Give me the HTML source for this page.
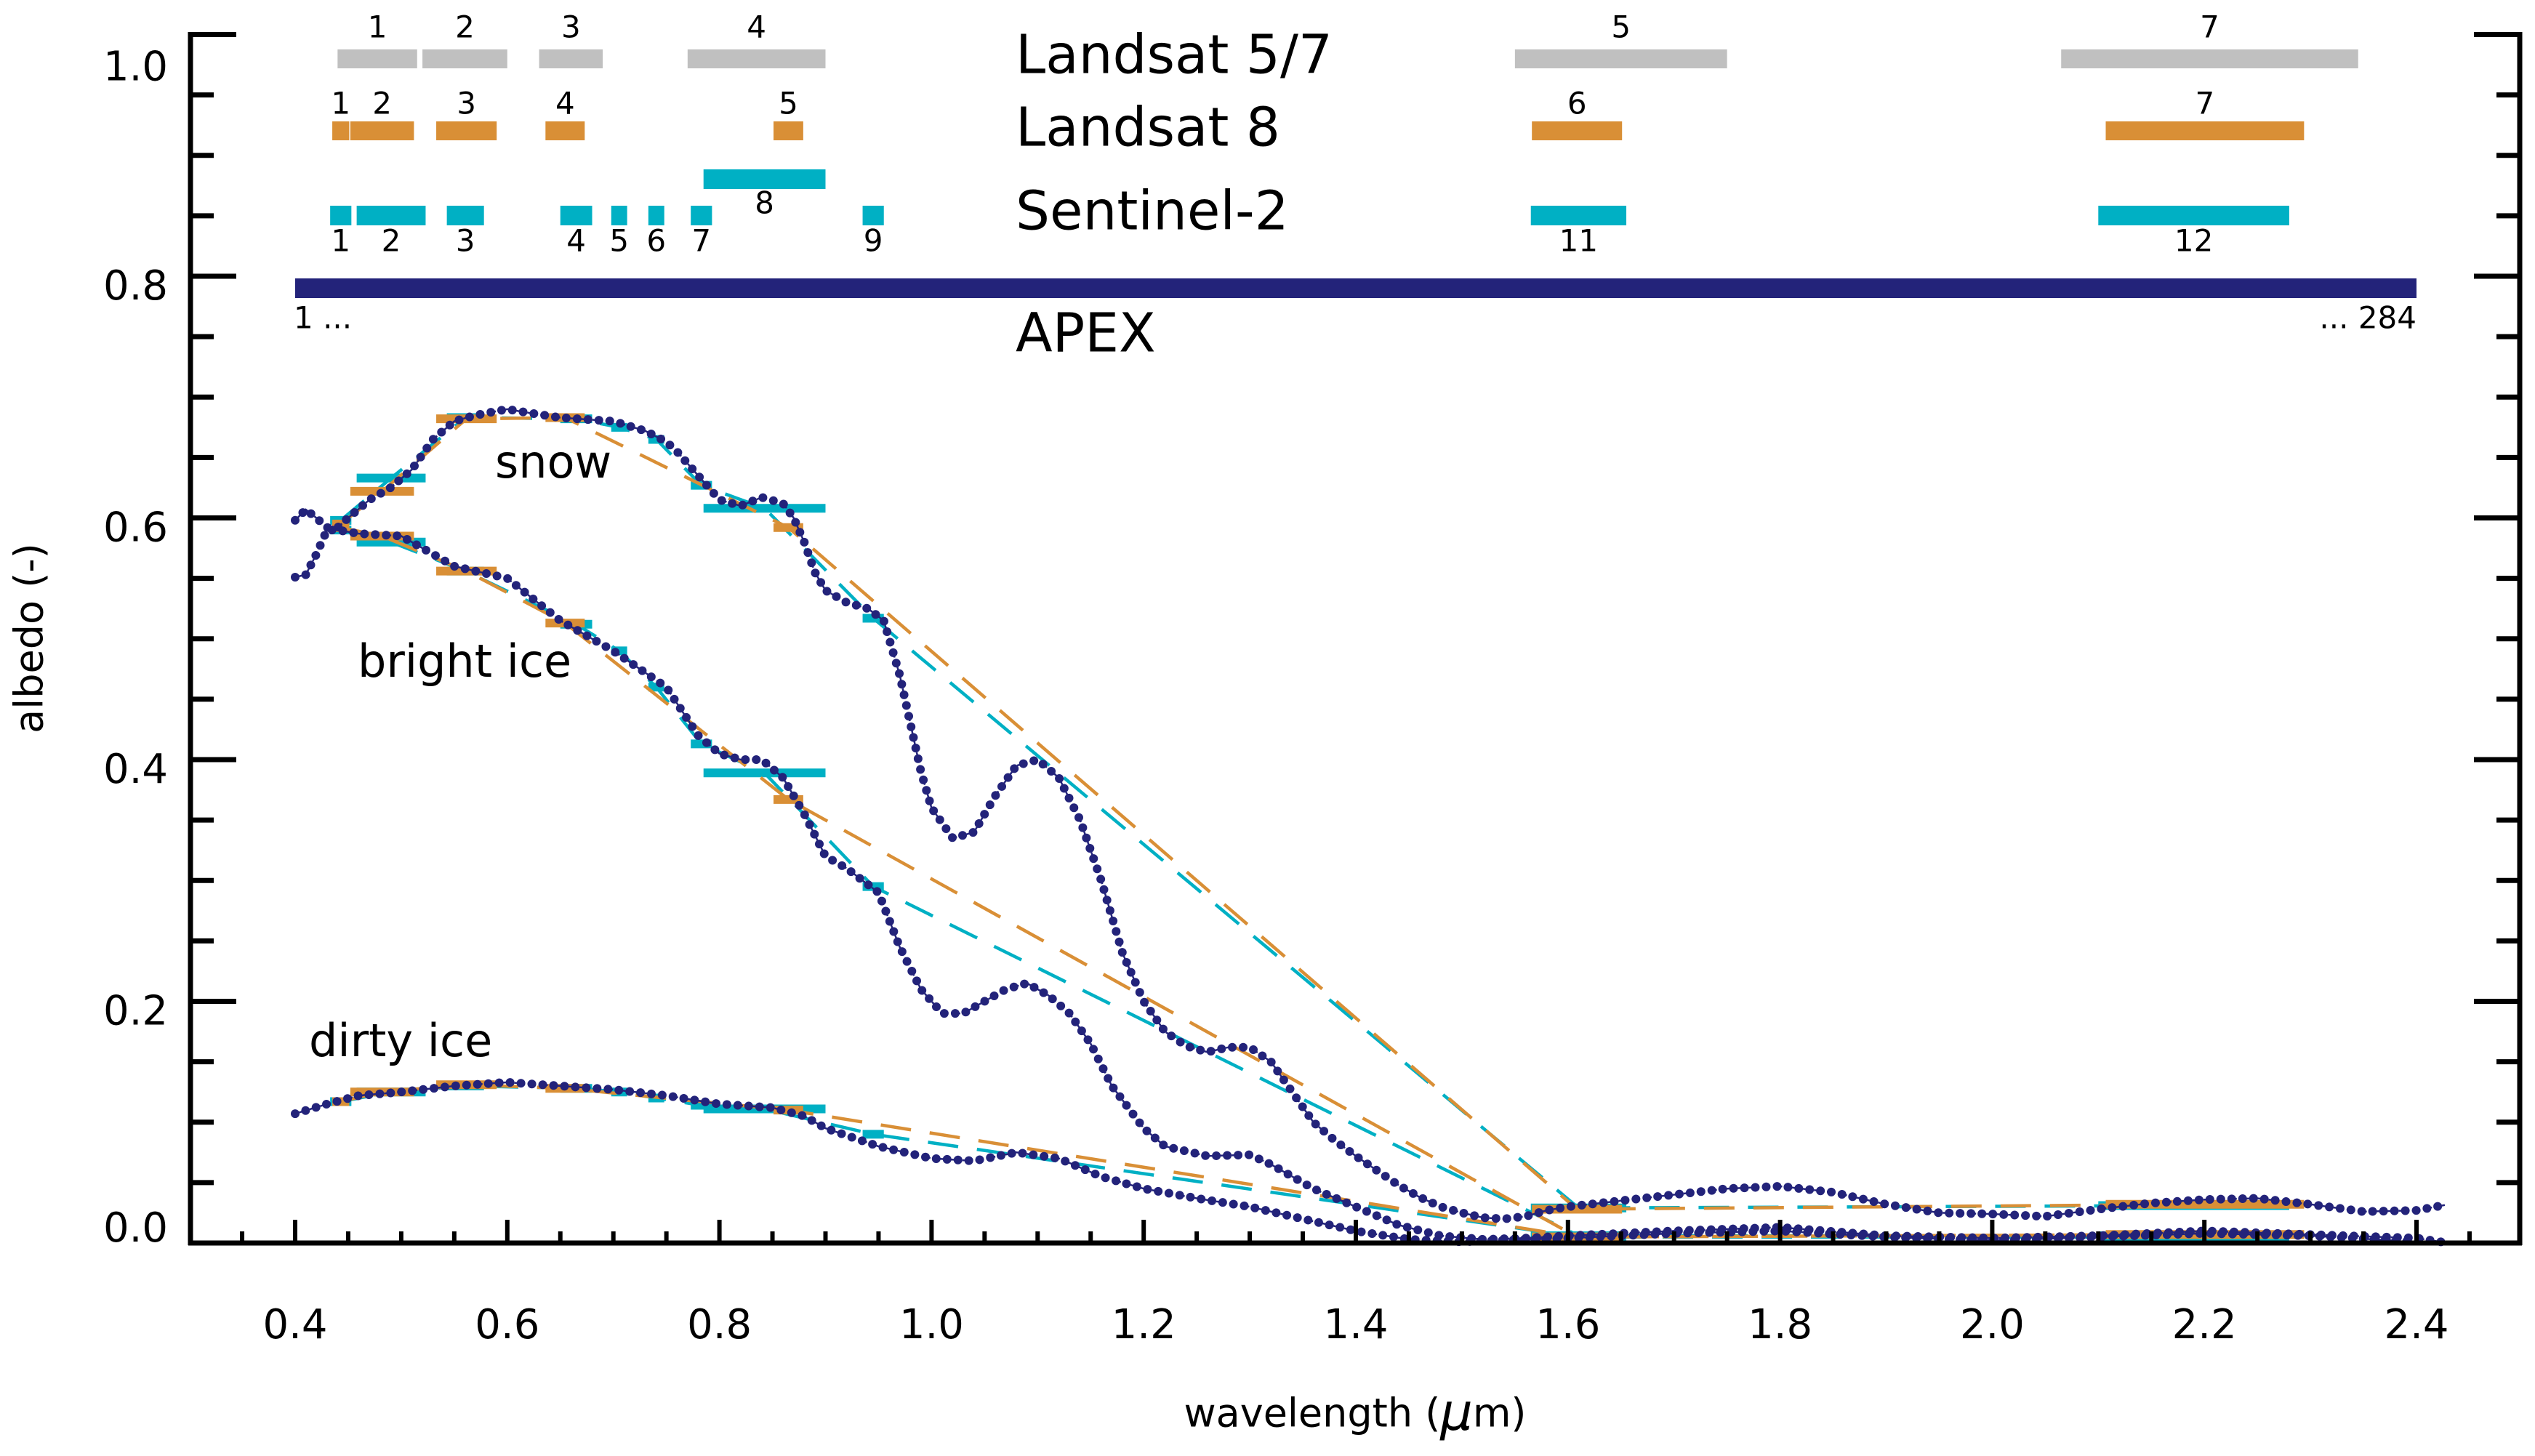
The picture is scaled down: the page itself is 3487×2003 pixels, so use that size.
<!DOCTYPE html>
<html><head><meta charset="utf-8"><style>
html,body{margin:0;padding:0;background:#fff;}
svg{display:block;font-family:"DejaVu Sans","Liberation Sans",sans-serif;}
</style></head>
<body>
<svg id="chart" xmlns="http://www.w3.org/2000/svg" width="3487" height="2003" viewBox="0 0 3487 2003">
<rect x="0" y="0" width="3487" height="2003" fill="#fff"/>
<g id="bands"></g>
<g id="series"></g>
<g id="axes"></g>
<text x="1397" y="80" font-size="74" dominant-baseline="middle">Landsat 5/7</text>
<text x="1397" y="180" font-size="74" dominant-baseline="middle">Landsat 8</text>
<text x="1397" y="295" font-size="74" dominant-baseline="middle">Sentinel-2</text>
<text x="1397" y="463" font-size="74" dominant-baseline="middle">APEX</text>
<text x="681" y="640" font-size="62" dominant-baseline="middle">snow</text>
<text x="492" y="914" font-size="62" dominant-baseline="middle">bright ice</text>
<text x="425" y="1436" font-size="62" dominant-baseline="middle">dirty ice</text>
<text x="1864" y="1948" font-size="54" text-anchor="middle" dominant-baseline="middle">wavelength (<tspan font-style="italic" font-size="70">μ</tspan>m)</text>
<text x="44" y="878" font-size="54" text-anchor="middle" dominant-baseline="middle" transform="rotate(-90 44 878)">albedo (-)</text>
</svg>
<script>
// ---- data ----
const l57Bands = [[0.44,0.515],[0.52,0.60],[0.63,0.69],[0.77,0.90],[1.55,1.75],[2.065,2.345]];
const l57Names = ['1','2','3','4','5','7'];
const l8Bands = [[0.435,0.451],[0.452,0.512],[0.533,0.590],[0.636,0.673],[0.851,0.879],[1.566,1.651],[2.107,2.294]];
const l8Names = ['1','2','3','4','5','6','7'];
const s2Bands = [[0.433,0.453],[0.458,0.523],[0.543,0.578],[0.650,0.680],[0.698,0.713],[0.733,0.748],[0.773,0.793],[0.785,0.900],[0.935,0.955],[1.565,1.655],[2.100,2.280]];
const s2Names = ['1','2','3','4','5','6','7','8','9','11','12'];
const apexRange = [0.40, 2.40];

const snowWl = [0.40,0.41,0.42,0.43,0.44,0.45,0.47,0.49,0.51,0.53,0.55,0.57,0.60,0.62,0.65,0.70,0.73,0.75,0.76,0.78,0.80,0.82,0.84,0.86,0.87,0.88,0.89,0.90,0.92,0.94,0.955,0.97,0.99,1.00,1.02,1.04,1.06,1.08,1.10,1.12,1.14,1.16,1.18,1.20,1.22,1.24,1.26,1.28,1.30,1.32,1.34,1.36,1.38,1.40,1.42,1.44,1.46,1.48,1.50,1.52,1.54,1.56,1.58,1.60,1.65,1.70,1.75,1.80,1.85,1.90,1.95,2.00,2.05,2.10,2.15,2.20,2.25,2.30,2.35,2.40,2.43];
const snowAlb = [0.598,0.607,0.600,0.592,0.592,0.600,0.615,0.625,0.640,0.665,0.680,0.685,0.690,0.687,0.683,0.680,0.672,0.663,0.655,0.635,0.615,0.610,0.617,0.612,0.600,0.580,0.555,0.540,0.530,0.525,0.515,0.470,0.390,0.360,0.335,0.340,0.370,0.395,0.400,0.385,0.350,0.300,0.240,0.200,0.175,0.163,0.158,0.162,0.162,0.150,0.125,0.100,0.085,0.072,0.060,0.048,0.038,0.030,0.025,0.021,0.020,0.022,0.027,0.030,0.035,0.040,0.045,0.047,0.042,0.032,0.025,0.024,0.022,0.028,0.033,0.036,0.037,0.032,0.026,0.027,0.032];
const brightWl = [0.40,0.41,0.42,0.43,0.44,0.46,0.50,0.52,0.55,0.60,0.65,0.70,0.75,0.78,0.80,0.82,0.84,0.86,0.88,0.90,0.92,0.95,0.97,0.99,1.01,1.03,1.05,1.07,1.09,1.11,1.13,1.15,1.17,1.20,1.22,1.26,1.30,1.32,1.36,1.40,1.44,1.48,1.52,1.56,1.60,1.70,1.80,1.90,2.00,2.10,2.20,2.30,2.40,2.43];
const brightAlb = [0.551,0.553,0.570,0.590,0.590,0.587,0.585,0.575,0.560,0.550,0.515,0.490,0.460,0.420,0.405,0.400,0.400,0.385,0.355,0.320,0.310,0.290,0.245,0.210,0.190,0.190,0.200,0.210,0.215,0.205,0.190,0.165,0.130,0.095,0.080,0.072,0.073,0.065,0.045,0.030,0.015,0.006,0.003,0.004,0.006,0.010,0.013,0.006,0.004,0.006,0.010,0.007,0.004,0.000];
const dirtyWl = [0.40,0.43,0.46,0.50,0.55,0.60,0.65,0.70,0.75,0.80,0.85,0.88,0.90,0.95,1.00,1.04,1.08,1.12,1.16,1.20,1.25,1.30,1.35,1.40,1.45,1.50,1.60,1.70,1.80,1.90,2.00,2.10,2.20,2.30,2.40];
const dirtyAlb = [0.107,0.115,0.122,0.125,0.130,0.133,0.130,0.127,0.122,0.115,0.112,0.105,0.095,0.080,0.070,0.068,0.075,0.070,0.055,0.045,0.037,0.030,0.020,0.010,0.003,0.001,0.004,0.008,0.010,0.005,0.002,0.005,0.008,0.006,0.001];

const l8Snow = [0.595,0.622,0.682,0.683,0.592,0.028,0.032];
const l8Bright = [0.592,0.585,0.556,0.513,0.367,0.005,0.007];
const l8Dirty = [0.117,0.125,0.131,0.128,0.110,0.005,0.007];
const s2Snow = [0.598,0.633,0.683,0.682,0.675,0.665,0.627,0.608,0.517,0.029,0.031];
const s2Bright = [0.590,0.580,0.556,0.512,0.490,0.460,0.413,0.389,0.295,0.006,0.006];
const s2Dirty = [0.117,0.125,0.130,0.128,0.125,0.120,0.114,0.111,0.090,0.005,0.005];

const xTickLabels = ['0.4','0.6','0.8','1.0','1.2','1.4','1.6','1.8','2.0','2.2','2.4'];
const yTickLabels = ['0.0','0.2','0.4','0.6','0.8','1.0'];

// ---- scales ----
const X0 = 406, XK = 1459;
const Y0 = 1710, YK = 1662.5;
function sx(w){ return X0 + (w - 0.4) * XK; }
function sy(a){ return Y0 - a * YK; }
const NS = 'http://www.w3.org/2000/svg';
function mk(tag, attrs, parent){
  const e = document.createElementNS(NS, tag);
  for (const k in attrs) e.setAttribute(k, attrs[k]);
  parent.appendChild(e);
  return e;
}
const bandsG = document.getElementById('bands');
const seriesG = document.getElementById('series');
const axesG = document.getElementById('axes');

// ---- band bars ----
function drawBands(bands, names, y, h, color, labelY, key){
  bands.forEach((b, i) => {
    let yy = y, ly = labelY;
    if (key === 's2' && names[i] === '8') { yy = 233; ly = 282; }
    const r = mk('rect', {x: sx(b[0]), y: yy, width: sx(b[1]) - sx(b[0]), height: h, fill: color}, bandsG);
    
    
    const t = mk('text', {x: (sx(b[0]) + sx(b[1])) / 2, y: ly, 'font-size': 42, 'text-anchor': 'middle', 'dominant-baseline': 'middle'}, bandsG);
    t.textContent = names[i];
    
    
  });
}
drawBands(l57Bands, l57Names, 68, 26, '#c0c0c0', 40, 'l57');
drawBands(l8Bands, l8Names, 167, 26, '#d98f36', 145, 'l8');
drawBands(s2Bands, s2Names, 283, 27, '#00b0c4', 334, 's2');
const apex = mk('rect', {x: sx(apexRange[0]), y: 383, width: sx(apexRange[1]) - sx(apexRange[0]), height: 27, fill: '#23237a'}, bandsG);


const a1 = mk('text', {x: sx(apexRange[0]) - 2, y: 440, 'font-size': 42, 'dominant-baseline': 'middle'}, bandsG);
a1.textContent = '1 ...';


const a2 = mk('text', {x: sx(apexRange[1]), y: 440, 'font-size': 42, 'text-anchor': 'end', 'dominant-baseline': 'middle'}, bandsG);
a2.textContent = '... 284';



// ---- sensor band-averaged series ----
function drawSensor(bands, vals, color, key){
  const pts = bands.map((b, i) => [sx((b[0] + b[1]) / 2), sy(vals[i])]);
  const pl = mk('polyline', {points: pts.map(p => p.join(',')).join(' '), fill: 'none', stroke: color, 'stroke-width': 4.5, 'stroke-dasharray': '42 26'}, seriesG);
  
  
  bands.forEach((b, i) => {
    const ln = mk('line', {x1: sx(b[0]), x2: sx(b[1]), y1: sy(vals[i]), y2: sy(vals[i]), stroke: color, 'stroke-width': 12}, seriesG);
    
    
  });
}
drawSensor(s2Bands, s2Snow, '#00b0c4', 's2-snow');
drawSensor(s2Bands, s2Bright, '#00b0c4', 's2-bright-ice');
drawSensor(s2Bands, s2Dirty, '#00b0c4', 's2-dirty-ice');
drawSensor(l8Bands, l8Snow, '#d98f36', 'l8-snow');
drawSensor(l8Bands, l8Bright, '#d98f36', 'l8-bright-ice');
drawSensor(l8Bands, l8Dirty, '#d98f36', 'l8-dirty-ice');

// ---- APEX spectra (dotted) ----
function drawSpectrum(wl, alb, key){
  const d = wl.map((w, i) => (i ? 'L' : 'M') + sx(w).toFixed(1) + ',' + sy(alb[i]).toFixed(1)).join(' ');
  const thin = mk('path', {d: d, fill: 'none', stroke: '#23237a', 'stroke-width': 2.5, 'stroke-dasharray': '10 8'}, seriesG);
  
  
  const dots = mk('path', {d: d, fill: 'none', stroke: '#23237a', 'stroke-width': 12, 'stroke-linecap': 'round', 'stroke-dasharray': '0 15'}, seriesG);
  
  
}
drawSpectrum(snowWl, snowAlb, 'snow');
drawSpectrum(brightWl, brightAlb, 'bright-ice');
drawSpectrum(dirtyWl, dirtyAlb, 'dirty-ice');

// ---- axes ----
const XL = 262, XR = 3466, YT = 44;
const la = mk('line', {x1: XL, y1: YT, x2: XL, y2: Y0 + 3, stroke: '#000', 'stroke-width': 7}, axesG);


const ra = mk('line', {x1: XR, y1: YT, x2: XR, y2: Y0 + 3, stroke: '#000', 'stroke-width': 7}, axesG);


const xa = mk('line', {x1: XL - 3, y1: Y0, x2: XR + 3, y2: Y0, stroke: '#000', 'stroke-width': 7}, axesG);


for (let k = 0; k <= 20; k++) {
  const v = k * 0.05, y = sy(v), major = (k % 4 === 0);
  const len = major ? 63 : 32;
  if (k > 0) {
    const t1 = mk('line', {x1: XL, x2: XL + len, y1: y, y2: y, stroke: '#000', 'stroke-width': 7}, axesG);
    
    
    const t2 = mk('line', {x1: XR, x2: XR - len, y1: y, y2: y, stroke: '#000', 'stroke-width': 7}, axesG);
    
    
  }
}
yTickLabels.forEach((lab, i) => {
  const v = i * 0.2;
  let off = 17;
  if (i === 0) off = -17;
  if (i === 5) off = 48;
  const t = mk('text', {x: 231, y: sy(v) + off, 'font-size': 56, 'text-anchor': 'end', 'dominant-baseline': 'middle'}, axesG);
  t.textContent = lab;
  
  
});
for (let k = 7; k <= 49; k++) {
  const w = k * 0.05, x = sx(w), major = (k % 4 === 0);
  const len = major ? 32 : 16;
  const t = mk('line', {x1: x, x2: x, y1: Y0, y2: Y0 - len, stroke: '#000', 'stroke-width': 6}, axesG);
  
  
}
xTickLabels.forEach((lab, i) => {
  const w = 0.4 + i * 0.2;
  const t = mk('text', {x: sx(w), y: 1826, 'font-size': 56, 'text-anchor': 'middle', 'dominant-baseline': 'middle'}, axesG);
  t.textContent = lab;
  
  
});
</script>
</body></html>
